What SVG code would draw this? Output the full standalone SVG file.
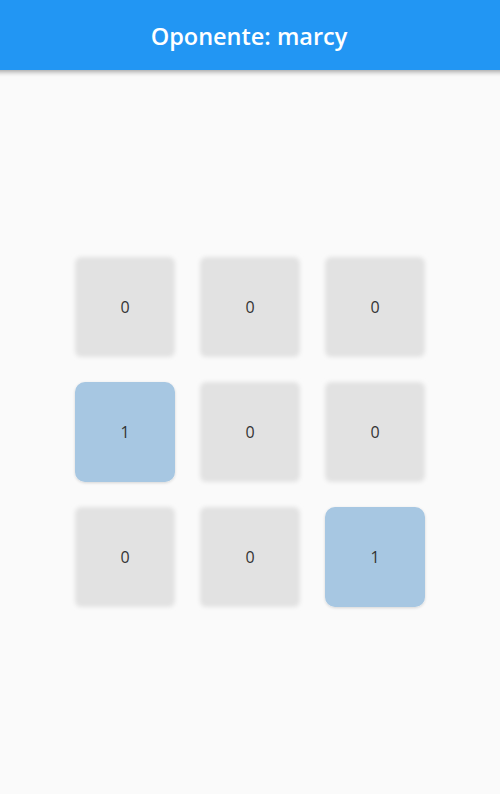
<svg xmlns="http://www.w3.org/2000/svg" width="500" height="794" viewBox="0 0 500 794">
<defs>
<filter id="soft" x="-10%" y="-10%" width="120%" height="120%"><feGaussianBlur stdDeviation="2"/></filter>
<filter id="shadow" x="-5%" y="-20%" width="110%" height="160%"><feGaussianBlur in="SourceAlpha" stdDeviation="2.5"/><feOffset dy="2"/><feComponentTransfer><feFuncA type="linear" slope="0.35"/></feComponentTransfer><feMerge><feMergeNode/><feMergeNode in="SourceGraphic"/></feMerge></filter>
<filter id="bshadow" x="-10%" y="-10%" width="120%" height="125%"><feGaussianBlur in="SourceAlpha" stdDeviation="1.5"/><feOffset dy="1"/><feComponentTransfer><feFuncA type="linear" slope="0.15"/></feComponentTransfer><feMerge><feMergeNode/><feMergeNode in="SourceGraphic"/></feMerge></filter>
</defs>
<style>
.g{fill:#e2e2e2;filter:url(#soft)}
.b{fill:#a7c7e2;filter:url(#bshadow)}
.t{font-family:"Open Sans","Noto Sans",sans-serif;font-size:16px;fill:#333;text-anchor:middle}
.h{font-family:"Open Sans","Noto Sans",sans-serif;font-size:23.5px;font-weight:600;fill:#fff;text-anchor:middle}
</style>
<rect width="500" height="794" fill="#fafafa"/>
<g id="header"><rect x="-10" y="-10" width="520" height="80" fill="#2196f3" filter="url(#shadow)"/><text class="h" x="249" y="45">Oponente: marcy</text></g>
<g id="cell00"><rect class="g" x="75" y="257" width="100" height="100" rx="6"/><text class="t" x="125" y="313">0</text></g>
<g id="cell01"><rect class="g" x="200" y="257" width="100" height="100" rx="6"/><text class="t" x="250" y="313">0</text></g>
<g id="cell02"><rect class="g" x="325" y="257" width="100" height="100" rx="6"/><text class="t" x="375" y="313">0</text></g>
<g id="cell10"><rect class="b" x="75" y="382" width="100" height="100" rx="10"/><text class="t" x="125" y="438">1</text></g>
<g id="cell11"><rect class="g" x="200" y="382" width="100" height="100" rx="6"/><text class="t" x="250" y="438">0</text></g>
<g id="cell12"><rect class="g" x="325" y="382" width="100" height="100" rx="6"/><text class="t" x="375" y="438">0</text></g>
<g id="cell20"><rect class="g" x="75" y="507" width="100" height="100" rx="6"/><text class="t" x="125" y="563">0</text></g>
<g id="cell21"><rect class="g" x="200" y="507" width="100" height="100" rx="6"/><text class="t" x="250" y="563">0</text></g>
<g id="cell22"><rect class="b" x="325" y="507" width="100" height="100" rx="10"/><text class="t" x="375" y="563">1</text></g>
<g id="connectors"/>
</svg>
